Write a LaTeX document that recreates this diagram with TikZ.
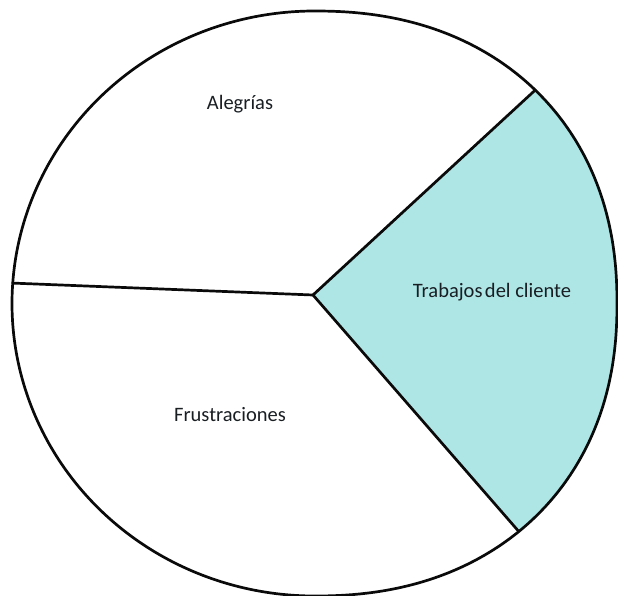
\documentclass[tikz,border=0pt]{standalone}
\usepackage{fontspec}
\setmainfont{Carlito}
\definecolor{jobfill}{RGB}{174,230,230}
\definecolor{inkline}{RGB}{10,10,10}
\definecolor{labeltext}{RGB}{25,30,35}
\begin{document}
\begin{tikzpicture}[x=1pt,y=-1pt,
  % rim: elliptic on the left half, slightly squared on the right half
  declare function={
    sq(\u)=\u*pow(abs(\u)+0.0001,-0.0909);
    sx(\t)=ifthenelse(cos(\t)>0, sq(cos(\t)), cos(\t));
    sy(\t)=ifthenelse(cos(\t)>0, sq(sin(\t)), sin(\t));
    px(\t)=314.5+302.5*sx(\t);
    py(\t)=303.5-292.5*sy(\t);
  },
  outline/.style={draw=inkline, line width=2.7pt},
  divider/.style={draw=inkline, line width=2.7pt, line cap=round},
  seglabel/.style={font=\fontsize{20.5}{24}\selectfont, text=labeltext, inner sep=0pt}]
\useasboundingbox (0,0) rectangle (618,596);
% meeting point of the three dividers and their ends on the rim
\coordinate (v) at (313,295);
\coordinate (a) at ({px(45)},{py(45)});
\coordinate (b) at ({px(-49.5)},{py(-49.5)});
\coordinate (l) at ({px(176)},{py(176)});
% customer jobs sector
\fill[jobfill] (v) -- (a) -- plot[domain=45:-49.5, samples=96] ({px(\x)},{py(\x)}) -- (b) -- cycle;
% rim and dividers
\draw[outline] plot[domain=0:358, samples=180, smooth cycle] ({px(\x)},{py(\x)});
\draw[divider] (v) -- (a);
\draw[divider] (v) -- (b);
\draw[divider] (v) -- (l);
% labels
\node[seglabel] (gains) at (240,104) {Alegrías};
\node[seglabel] (jobs) at (492,292) {Trabajos\hspace{0.12em}del cliente};
\node[seglabel] (pains) at (230,415) {Frustraciones};
\end{tikzpicture}
\end{document}
